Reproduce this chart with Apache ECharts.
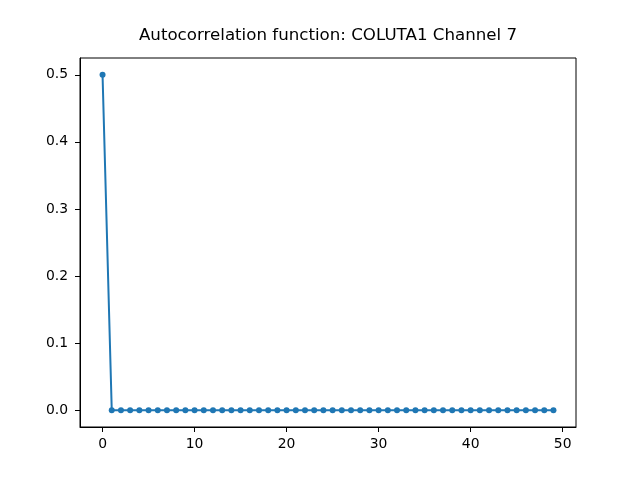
<!DOCTYPE html>
<html>
<head>
<meta charset="utf-8">
<script src="https://cdn.jsdelivr.net/npm/echarts@6/dist/echarts.min.js"></script>
<style>html,body{margin:0;padding:0;background:#fff;}#c{width:640px;height:480px;}</style>
</head>
<body>
<div id="c"></div>
<script>
const titleText = "Autocorrelation function: COLUTA1 Channel 7";
const lags = [0,1,2,3,4,5,6,7,8,9,10,11,12,13,14,15,16,17,18,19,20,21,22,23,24,25,26,27,28,29,30,31,32,33,34,35,36,37,38,39,40,41,42,43,44,45,46,47,48,49];
const acf = [0.5,0,0,0,0,0,0,0,0,0,0,0,0,0,0,0,0,0,0,0,0,0,0,0,0,0,0,0,0,0,0,0,0,0,0,0,0,0,0,0,0,0,0,0,0,0,0,0,0,0];
const xTicks = [0,10,20,30,40,50];
const yTicks = [0,0.1,0.2,0.3,0.4,0.5];

const chart = echarts.init(document.getElementById('c'), null, {renderer:'canvas'});
const font = "DejaVu Sans";
chart.setOption({
  animation:false,
  backgroundColor:'#fff',
  graphic:[{type:'text',x:328,y:44,style:{text:titleText,align:'center',verticalAlign:'bottom',
    font:'16.67px "DejaVu Sans"',fill:'#000'}}],
  grid:{left:80,right:64,top:58,bottom:53,show:true,borderColor:'#000',borderWidth:1,containLabel:false},
  xAxis:{type:'value',min:-2.45,max:51.45,
    axisLine:{show:true,onZero:false,lineStyle:{color:'#000',width:1}},
    axisTick:{show:true,length:5,inside:false,customValues:xTicks,lineStyle:{color:'#000'}},
    axisLabel:{customValues:xTicks,fontFamily:font,fontSize:13.9,color:'#000',margin:10,formatter:v=>String(v)},
    splitLine:{show:false}},
  yAxis:{type:'value',min:-0.025,max:0.525,
    axisLine:{show:true,onZero:false,lineStyle:{color:'#000',width:1}},
    axisTick:{show:true,length:5,inside:false,customValues:yTicks,lineStyle:{color:'#000'}},
    axisLabel:{customValues:yTicks,fontFamily:font,fontSize:13.9,color:'#000',margin:12,formatter:v=>v.toFixed(1)},
    splitLine:{show:false}},
  series:[{type:'line',data:lags.map((x,i)=>[x,acf[i]]),
    symbol:'circle',symbolSize:6,showAllSymbol:true,
    lineStyle:{color:'#1f77b4',width:2},itemStyle:{color:'#1f77b4'}}]
});
</script>
</body>
</html>
